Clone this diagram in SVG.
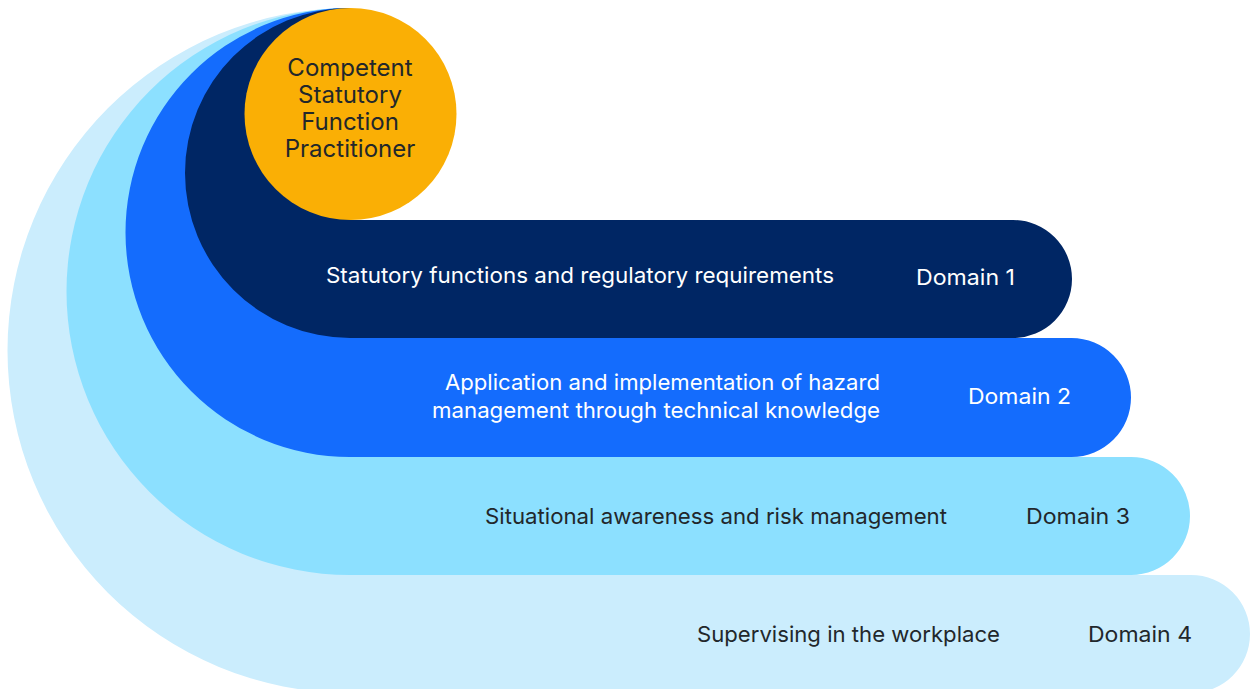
<svg xmlns="http://www.w3.org/2000/svg" width="1251" height="689" viewBox="0 0 1251 689">
<style>
text{font-family:Inter,"Liberation Sans",sans-serif;font-size:22px}
.w{fill:#ffffff}
.d{fill:#22272b}
.c{font-size:24px;text-anchor:middle;fill:#22272b}
.e{text-anchor:end}
</style>
<rect width="1251" height="689" fill="#ffffff"/>
<g id="domain4">
<path d="M350 8 A342.5 342.5 0 0 0 350 693 L1191 693 A59 59 0 0 0 1191 575 L350 575 Z" fill="#cbedfd"/>
<text class="d" x="697" y="642" textLength="303" lengthAdjust="spacingAndGlyphs">Supervising in the workplace</text>
<text class="d e" x="1192" y="642" textLength="104" lengthAdjust="spacingAndGlyphs">Domain 4</text>
</g>
<g id="domain3">
<path d="M350 8 A283.5 283.5 0 0 0 350 575 L1131 575 A59 59 0 0 0 1131 457 L350 457 Z" fill="#8ce0ff"/>
<text class="d" x="485" y="524" textLength="462" lengthAdjust="spacingAndGlyphs">Situational awareness and risk management</text>
<text class="d e" x="1130" y="524" textLength="104" lengthAdjust="spacingAndGlyphs">Domain 3</text>
</g>
<g id="domain2">
<path d="M350 8 A224.5 224.5 0 0 0 350 457 L1071.5 457 A59.5 59.5 0 0 0 1071.5 338 L350 338 Z" fill="#146cfd"/>
<text class="w e" x="880" y="390" textLength="435" lengthAdjust="spacingAndGlyphs">Application and implementation of hazard</text>
<text class="w e" x="880" y="418" textLength="448" lengthAdjust="spacingAndGlyphs">management through technical knowledge</text>
<text class="w e" x="1071" y="404" textLength="103" lengthAdjust="spacingAndGlyphs">Domain 2</text>
</g>
<g id="domain1">
<path d="M350 8 A165 165 0 0 0 350 338 L1013 338 A59 59 0 0 0 1013 220 L350 220 Z" fill="#002664"/>
<text class="w" x="326" y="283" textLength="508" lengthAdjust="spacingAndGlyphs">Statutory functions and regulatory requirements</text>
<text class="w e" x="1015" y="285" textLength="99" lengthAdjust="spacingAndGlyphs">Domain 1</text>
</g>
<g id="practitioner">
<circle cx="350.5" cy="114" r="106" fill="#faaf05"/>
<text class="c" x="350" y="76">Competent</text>
<text class="c" x="350" y="103">Statutory</text>
<text class="c" x="350" y="130">Function</text>
<text class="c" x="350" y="157">Practitioner</text>
</g>
<g id="connectors"/>
</svg>
